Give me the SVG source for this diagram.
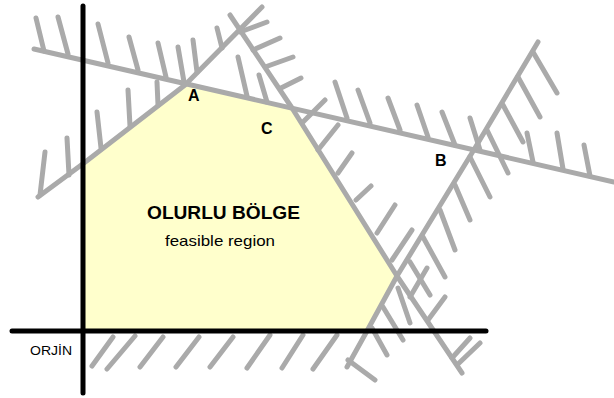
<svg xmlns="http://www.w3.org/2000/svg" width="614" height="398" viewBox="0 0 614 398">
<style>
.c{fill:none;stroke:#aaaaaa;stroke-width:5;stroke-linecap:round;stroke-linejoin:round}
.ax{fill:none;stroke:#000;stroke-width:5;stroke-linecap:round}
.lb{font-family:"Liberation Sans",Arial,sans-serif;fill:#000}
</style>
<rect width="614" height="398" fill="#fff"/>
<g id="feasible-region">
<polygon points="83,165 185,85 292,108 397,276 367,331 83,331" fill="#ffffcc"/>
</g>
<g id="connectors">
<g id="line1">
<polyline class="c" points="34,49 614,182"/>
<path class="c" d="M44,51L36,18 M68,54L58,17 M108,63L98,24 M138,70L129,37 M166,77L158,43 M184,82L178,47 M247,96L238,57 M267,102L259,75 M347,118L335,82 M370,123L358,90 M400,130L388,98 M428,137L417,105 M455,145L442,112 M480,150L470,118 M533,162L527,133 M563,169L557,133 M590,176L584,145"/>
</g>
<g id="line2">
<polyline class="c" points="38,197 84,163 185,85 262,7"/>
<path class="c" d="M40,195L45,152 M69,175L67,138 M101,148L97,112 M130,126L128,90 M158,105L157,82 M197,72L193,40 M222,48L217,28"/>
</g>
<g id="line3">
<polyline class="c" points="230,15 292,108 397,276 462,373"/>
<path class="c" d="M240,32L267,22 M253,50L280,38 M265,67L293,57 M281,88L301,78 M303,122L325,100 M318,150L338,125 M338,173L352,153 M356,200L371,186 M377,233L395,205 M392,260L412,230 M410,297L427,268 M428,320L445,297 M452,358L470,338 M458,364L480,343"/>
</g>
<g id="line4">
<polyline class="c" points="347,367 367,331 397,276 475,148 538,42"/>
<path class="c" d="M533,52L557,93 M518,77L540,117 M503,105L523,142 M487,130L508,173 M470,157L490,197 M455,185L470,220 M440,210L455,250 M423,237L445,277 M410,262L430,295 M398,288L410,323 M383,307L403,340 M372,328L387,355 M348,360L375,380"/>
</g>
<g id="xaxis-hatch">
<path class="c" d="M92,366L113,337 M107,369L135,336 M140,367L163,337 M176,367L199,337 M210,367L233,337 M247,368L270,335 M282,368L303,335 M313,369L337,335"/>
</g>
</g>
<g id="axes">
<line class="ax" x1="83" y1="6" x2="83" y2="393"/>
<line class="ax" x1="12" y1="331" x2="486" y2="331"/>
</g>
<g id="labels">
<text class="lb" x="188" y="101" font-size="16" font-weight="bold">A</text>
<text class="lb" x="261" y="134" font-size="16" font-weight="bold">C</text>
<text class="lb" x="435" y="166" font-size="16" font-weight="bold">B</text>
<text class="lb" x="147" y="219" font-size="18" font-weight="bold" textLength="153" lengthAdjust="spacingAndGlyphs">OLURLU BÖLGE</text>
<text class="lb" x="165" y="246" font-size="15" textLength="110" lengthAdjust="spacingAndGlyphs">feasible region</text>
<text class="lb" x="30" y="355" font-size="13" textLength="42" lengthAdjust="spacingAndGlyphs" fill="#222">ORJİN</text>
</g>
</svg>
